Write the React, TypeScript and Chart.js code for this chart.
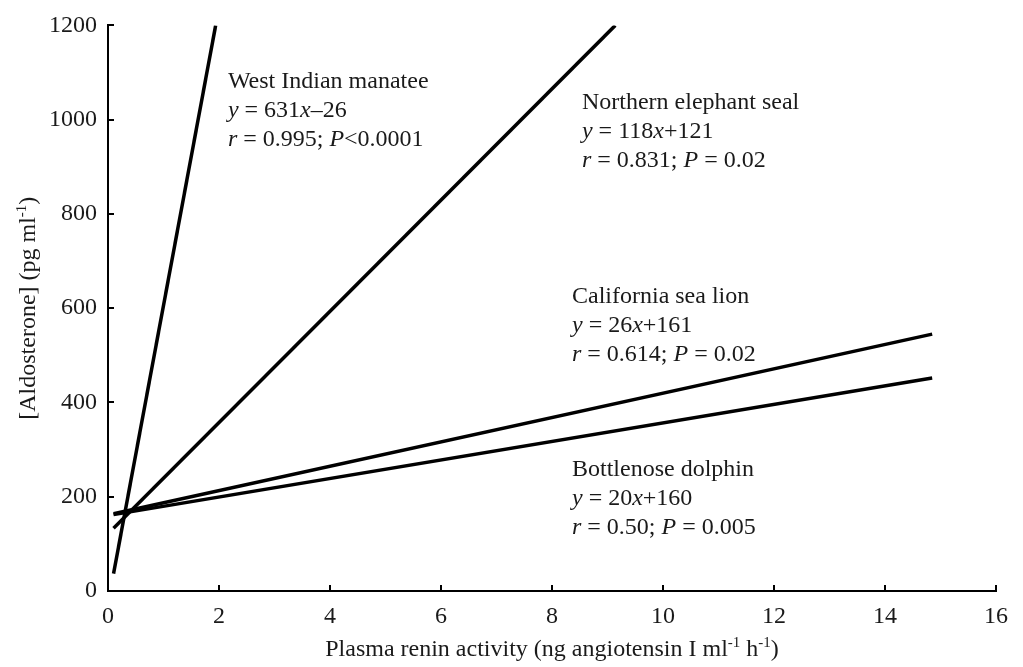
import React, { useEffect, useRef } from "react";
import { Chart, registerables } from "chart.js";

Chart.register(...registerables);

// Regression line end points (x: renin activity, y: aldosterone)
const manateeX = [0.1, 1.94];
const manateeY = [37, 1200];
const sealX = [0.1, 9.14];
const sealY = [133, 1200];
const seaLionX = [0.1, 14.85];
const seaLionY = [164, 545];
const dolphinX = [0.1, 14.85];
const dolphinY = [162, 452];

const xTicks = [0, 2, 4, 6, 8, 10, 12, 14, 16];
const yTicks = [0, 200, 400, 600, 800, 1000, 1200];

const xTitle = "Plasma renin activity (ng angiotensin I ml";
const yTitle = "[Aldosterone] (pg ml";

type Seg = [string, boolean];
const labelLines: { x: number; y: number; lines: Seg[][] }[] = [
  {
    x: 2.16,
    y: 1067,
    lines: [
      [["West Indian manatee", false]],
      [["y", true], [" = 631", false], ["x", true], ["\u201326", false]],
      [["r", true], [" = 0.995; ", false], ["P", true], ["<0.0001", false]],
    ],
  },
  {
    x: 8.54,
    y: 1023,
    lines: [
      [["Northern elephant seal", false]],
      [["y", true], [" = 118", false], ["x", true], ["+121", false]],
      [["r", true], [" = 0.831; ", false], ["P", true], [" = 0.02", false]],
    ],
  },
  {
    x: 8.36,
    y: 610,
    lines: [
      [["California sea lion", false]],
      [["y", true], [" = 26", false], ["x", true], ["+161", false]],
      [["r", true], [" = 0.614; ", false], ["P", true], [" = 0.02", false]],
    ],
  },
  {
    x: 8.36,
    y: 245,
    lines: [
      [["Bottlenose dolphin", false]],
      [["y", true], [" = 20", false], ["x", true], ["+160", false]],
      [["r", true], [" = 0.50; ", false], ["P", true], [" = 0.005", false]],
    ],
  },
];

const FAMILY = '"Liberation Serif", "Times New Roman", serif';
const FS = 24;
const TEXT = "#1a1a1a";

const pts = (xs: number[], ys: number[]) => xs.map((x, i) => ({ x, y: ys[i] }));

const overlay = {
  id: "overlay",
  afterDraw(chart: any) {
    const ctx: CanvasRenderingContext2D = chart.ctx;
    const xs = chart.scales.x;
    const ys = chart.scales.y;
    const area = chart.chartArea;
    ctx.save();
    // inward tick marks
    ctx.strokeStyle = "#000";
    ctx.lineWidth = 2;
    ctx.beginPath();
    xTicks.forEach((v) => {
      const px = Math.round(xs.getPixelForValue(v));
      ctx.moveTo(px, area.bottom);
      ctx.lineTo(px, area.bottom - 6);
    });
    yTicks.forEach((v) => {
      const py = Math.round(ys.getPixelForValue(v));
      ctx.moveTo(area.left, py);
      ctx.lineTo(area.left + 6, py);
    });
    ctx.stroke();

    // annotations
    ctx.fillStyle = TEXT;
    ctx.textBaseline = "alphabetic";
    ctx.textAlign = "left";
    labelLines.forEach((lab) => {
      const x0 = xs.getPixelForValue(lab.x);
      const y0 = ys.getPixelForValue(lab.y);
      lab.lines.forEach((line, li) => {
        let x = x0;
        const y = y0 + li * 29;
        line.forEach(([t, it]) => {
          ctx.font = `${it ? "italic " : ""}${FS}px ${FAMILY}`;
          ctx.fillText(t, x, y);
          x += ctx.measureText(t).width;
        });
      });
    });

    // axis titles with superscripts
    const drawTitle = (parts: [string, boolean][]) => {
      let w = 0;
      parts.forEach(([t, sup]) => {
        ctx.font = `${sup ? 15 : FS}px ${FAMILY}`;
        w += ctx.measureText(t).width;
      });
      let x = -w / 2;
      parts.forEach(([t, sup]) => {
        ctx.font = `${sup ? 15 : FS}px ${FAMILY}`;
        ctx.fillText(t, x, sup ? -9 : 0);
        x += ctx.measureText(t).width;
      });
    };
    ctx.save();
    ctx.translate((area.left + area.right) / 2, 656);
    drawTitle([
      [xTitle, false],
      ["-1", true],
      [" h", false],
      ["-1", true],
      [")", false],
    ]);
    ctx.restore();
    ctx.save();
    ctx.translate(35, (area.top + area.bottom) / 2);
    ctx.rotate(-Math.PI / 2);
    drawTitle([
      [yTitle, false],
      ["-1", true],
      [")", false],
    ]);
    ctx.restore();
    ctx.restore();
  },
};

export default function App() {
  const ref = useRef<HTMLCanvasElement>(null);
  useEffect(() => {
    if (!ref.current) return;
    const ds = (xs: number[], ys: number[]) => ({
      data: pts(xs, ys),
      showLine: true,
      borderColor: "#000",
      borderWidth: 3.5,
      pointRadius: 0,
      fill: false,
      borderCapStyle: "butt" as const,
    });
    const chart = new Chart(ref.current, {
      type: "scatter",
      data: {
        datasets: [
          ds(manateeX, manateeY),
          ds(sealX, sealY),
          ds(seaLionX, seaLionY),
          ds(dolphinX, dolphinY),
        ],
      },
      options: {
        animation: false,
        responsive: false,
        events: [],
        layout: { padding: { left: 0, top: 15, right: 27, bottom: 0 } },
        plugins: { legend: { display: false }, tooltip: { enabled: false } },
        scales: {
          x: {
            type: "linear",
            min: 0,
            max: 16,
            grid: { display: false, tickLength: 0 },
            border: { display: true, color: "#000", width: 2 },
            ticks: {
              stepSize: 2,
              padding: 11,
              color: TEXT,
              font: { family: FAMILY, size: FS },
              maxRotation: 0,
              callback: (v: any) => String(v),
            },
            afterFit: (s: any) => {
              s.height = 76;
            },
          },
          y: {
            type: "linear",
            min: 0,
            max: 1200,
            grid: { display: false, tickLength: 0 },
            border: { display: true, color: "#000", width: 2 },
            ticks: {
              stepSize: 200,
              padding: 11,
              color: TEXT,
              font: { family: FAMILY, size: FS },
              callback: (v: any) => String(v),
            },
            afterFit: (s: any) => {
              s.width = 108;
            },
          },
        },
      },
      plugins: [overlay],
    });
    return () => chart.destroy();
  }, []);
  return (
    <div style={{ position: "absolute", left: 0, top: 0, width: 1023, height: 667, background: "#fff" }}>
      <canvas ref={ref} width={1023} height={667} />
    </div>
  );
}
